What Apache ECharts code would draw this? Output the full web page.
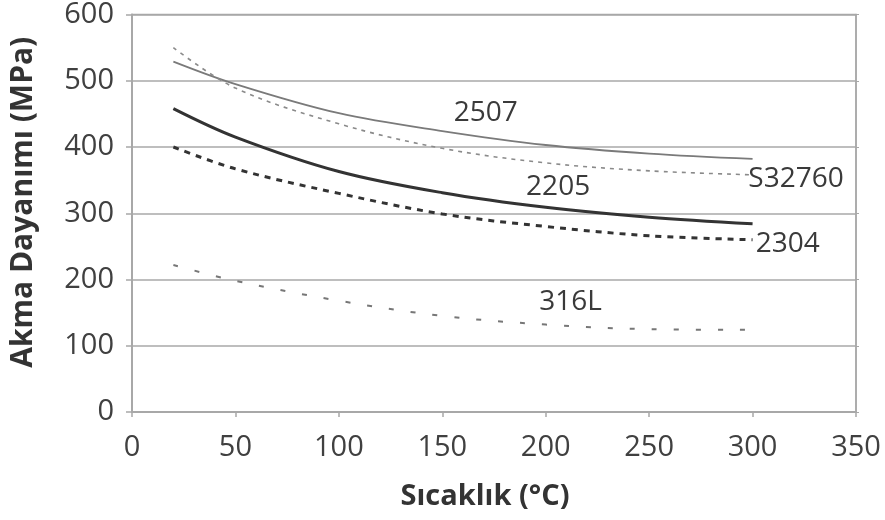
<!DOCTYPE html>
<html>
<head>
<meta charset="utf-8">
<script src="https://cdn.jsdelivr.net/npm/echarts@6/dist/echarts.min.js"></script>
<style>
html,body{margin:0;padding:0;background:#fff;}
#chart{width:885px;height:520px;}
</style>
</head>
<body>
<div id="chart"></div>
<script>
// Temperature (°C)
const temps = [20, 50, 100, 150, 200, 250, 300];
// Yield strength (MPa)
const s2507   = [529, 495, 451, 424, 403, 390, 382];
const s32760  = [550, 489, 435, 398, 376, 364, 358];
const s2205   = [458, 415, 363, 331, 309, 294, 284];
const s2304   = [400, 367, 330, 299, 280, 266, 260];
const s316L   = [222, 198, 168, 145, 132, 125, 124];
const seriesNames = ['2507', 'S32760', '2205', '2304', '316L'];
// label anchor points in data units (x, MPa)
const labelX = [171, 321, 206, 317, 212];
const labelY = [452, 352, 339, 254, 166];
const xTicks = [0, 50, 100, 150, 200, 250, 300, 350];
const yTicks = [0, 100, 200, 300, 400, 500, 600];

const values = [s2507, s32760, s2205, s2304, s316L];
const styles = [
  {color: '#7a7a7a', width: 1.8, type: 'solid'},
  {color: '#8a8a8a', width: 1.6, type: [4, 5]},
  {color: '#333333', width: 3, type: 'solid'},
  {color: '#333333', width: 3, type: [6, 6]},
  {color: '#777777', width: 2, type: [5, 17]}
];
const font = 'Open Sans';
const chart = echarts.init(document.getElementById('chart'));
const series = seriesNames.map((n, i) => ({
  name: n,
  type: 'line',
  smooth: 0.35,
  showSymbol: false,
  symbol: 'none',
  data: temps.map((t, j) => [t, values[i][j]]),
  lineStyle: styles[i],
  z: 3,
  markPoint: {
    symbol: 'circle',
    symbolSize: 1,
    itemStyle: {color: 'rgba(0,0,0,0)'},
    label: {show: true, position: 'inside', formatter: n, fontFamily: font, fontSize: 28, color: '#3a3a3a'},
    data: [{coord: [labelX[i], labelY[i]]}]
  }
}));
const gridColor = '#a8a8a8';
chart.setOption({
  animation: false,
  backgroundColor: '#ffffff',
  grid: {left: 132, right: 29, top: 13, bottom: 108, show: true, borderColor: gridColor, borderWidth: 1.5},
  xAxis: {
    type: 'value', min: 0, max: 350, interval: 50,
    name: 'Sıcaklık (°C)', nameLocation: 'middle', nameGap: 70,
    nameTextStyle: {fontFamily: font, fontSize: 29, fontWeight: 'bold', color: '#333', padding: [0, 18, 0, 0]},
    axisLine: {show: true, lineStyle: {color: gridColor, width: 2}},
    axisTick: {show: true, inside: false, length: 5, lineStyle: {color: gridColor, width: 1.5}},
    axisLabel: {fontFamily: font, fontSize: 29, color: '#404040', margin: 21,
      formatter: v => xTicks.includes(v) ? String(v) : ''},
    splitLine: {show: false}
  },
  yAxis: [{
    type: 'value', min: 0, max: 600, interval: 100,
    name: 'Akma Dayanımı (MPa)', nameLocation: 'middle', nameGap: 94, nameRotate: 90,
    nameTextStyle: {fontFamily: font, fontSize: 30, fontWeight: 'bold', color: '#333', padding: [0, 0, 0, 22]},
    axisLine: {show: true, lineStyle: {color: gridColor, width: 2}},
    axisTick: {show: true, inside: false, length: 6, lineStyle: {color: gridColor, width: 1.5}},
    axisLabel: {fontFamily: font, fontSize: 29, color: '#404040', margin: 18,
      formatter: v => yTicks.includes(v) ? String(v) : ''},
    splitLine: {show: true, lineStyle: {color: gridColor, width: 1.5}}
  }, {
    type: 'value', min: 0, max: 600, interval: 100, position: 'right',
    axisLine: {show: true, lineStyle: {color: gridColor, width: 1.5}},
    axisTick: {show: true, length: 3, lineStyle: {color: gridColor}},
    axisLabel: {show: false},
    splitLine: {show: false}
  }],
  series: series
});
</script>
</body>
</html>
